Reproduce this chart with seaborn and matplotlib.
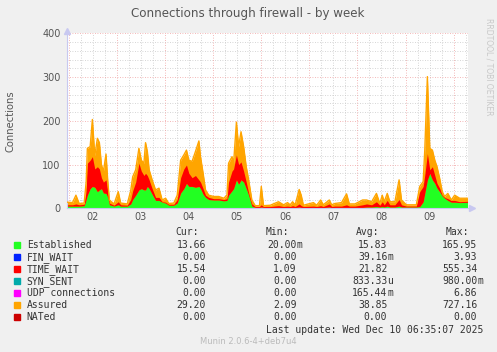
import numpy as np
import pandas as pd
import matplotlib
matplotlib.use("Agg")
import matplotlib.pyplot as plt
import seaborn as sns

# ---- data (hours since Dec 02 00:00) ----
hours = [-0.6, 2, 3.7, 5.3, 7.8, 8.8, 9.4, 10.8, 11.9, 13.1, 14.4, 15.4, 16.4, 17.4, 18.7, 19.6,
         20.4, 22.7, 24.8, 26, 29.3, 31, 32, 33.5, 35.1, 36.3, 37.6, 38.4, 39.3, 40.2, 41.7,
         43.4, 45.1, 46.7, 48.4, 50, 52.5, 54.2, 55.9, 57.5, 58.8, 60, 61.6, 63.3, 65, 65.8,
         67.1, 68.3, 69.9, 72.4, 74.9, 77.4, 79, 79.8, 81.5, 82.3, 83.7, 84.8, 86, 87.3, 88.6,
         89.8, 91.4, 93.1, 95.2, 96.1, 97.2, 100.6, 104.7, 107.2, 109.2, 110.5, 111.7, 113,
         115, 116, 117.1, 122.1, 123.7, 125.7, 127, 130, 131.2, 132.8, 136.1, 138.6, 140,
         142.8, 146.6, 148.6, 151.1, 153.5, 155.2, 156.4, 157.4, 158.9, 160.2, 162.7, 164.8,
         166, 168.4, 173.4, 175.1, 176.8, 177.6, 178.9, 180.1, 181.4, 182.6, 183.7, 185,
         186.3, 187.5, 189.1, 190.8, 192.5, 195, 198.9]
assured = [14, 13, 30, 11, 12, 60, 137, 141, 203, 120, 160, 150, 100, 84, 124, 60,
           19, 10, 38, 12, 10, 40, 72, 88, 137, 110, 103, 150, 130, 88, 65,
           42, 46, 19, 23, 11, 12, 30, 110, 122, 133, 110, 107, 130, 154, 118,
           80, 42, 30, 27, 27, 23, 30, 103, 118, 103, 197, 141, 175, 141, 95,
           65, 19, 6, 6, 50, 6, 7, 15, 8, 13, 8, 15, 8,
           43, 30, 7, 13, 7, 19, 8, 19, 8, 11, 13, 33, 10,
           10, 19, 19, 15, 34, 11, 30, 15, 34, 15, 15, 65,
           19, 8, 8, 50, 61, 133, 301, 137, 133, 110, 95, 69,
           38, 27, 34, 19, 30, 23, 23]
established = [5, 5, 5, 5, 6, 20, 30, 45, 50, 48, 38, 42, 45, 35, 34, 25,
               8, 5, 8, 5, 5, 10, 20, 30, 42, 45, 42, 42, 50, 45, 32,
               18, 18, 14, 12, 7, 7, 12, 35, 45, 57, 50, 50, 48, 50, 45,
               32, 25, 20, 19, 19, 17, 18, 30, 40, 45, 65, 55, 65, 60, 45,
               30, 5, 2, 2, 3, 2, 1.5, 2, 1.5, 2, 1.5, 2, 1.5,
               3, 2, 1.5, 2, 1.5, 2, 1.5, 3, 1.5, 2, 2, 2, 2,
               2, 2, 3, 3, 4, 3, 4, 3, 5, 3, 3, 5,
               3, 3, 3, 4, 15, 34, 65, 80, 65, 57, 46, 38,
               28, 23, 18, 14, 14, 13, 13.7]
time_wait = [3, 3, 5, 3, 3, 20, 73, 65, 68, 42, 57, 48, 25, 25, 31, 15,
             4, 2, 7, 3, 2, 10, 20, 30, 61, 40, 33, 38, 25, 20, 13,
             7, 7, 1, 2, 2, 2, 8, 35, 45, 42, 30, 20, 27, 15, 15,
             13, 5, 5, 3, 3, 3, 4, 30, 45, 45, 57, 45, 41, 25, 15,
             5, 5, 2, 2, 5, 2, 2.5, 4, 2.5, 3, 2.5, 4, 2.5,
             7, 4, 2.5, 3, 2.5, 4, 2.5, 7, 2.5, 3, 3, 6, 3,
             3, 6, 7, 5, 11, 4, 11, 5, 13, 5, 5, 15,
             5, 2, 2, 34, 35, 42, 60, 8, 30, 18, 11, 8,
             2, 2, 4, 4, 4, 2, 2.3]

day_labels = ["02", "03", "04", "05", "06", "07", "08", "09"]
y_ticks = [0, 100, 200, 300, 400]

legend_names = ["Established", "FIN_WAIT", "TIME_WAIT", "SYN_SENT",
                "UDP connections", "Assured", "NATed"]
legend_colors = ["#22FF22", "#0022FF", "#FF0000", "#00AAAA",
                 "#FF00FF", "#FFA500", "#CC0000"]
cur_vals = [("13.66", ""), ("0.00", ""), ("15.54", ""), ("0.00", ""), ("0.00", ""), ("29.20", ""), ("0.00", "")]
min_vals = [("20.00", "m"), ("0.00", ""), ("1.09", ""), ("0.00", ""), ("0.00", ""), ("2.09", ""), ("0.00", "")]
avg_vals = [("15.83", ""), ("39.16", "m"), ("21.82", ""), ("833.33", "u"), ("165.44", "m"), ("38.85", ""), ("0.00", "")]
max_vals = [("165.95", ""), ("3.93", ""), ("555.34", ""), ("980.00", "m"), ("6.86", ""), ("727.16", ""), ("0.00", "")]

df = pd.DataFrame({"hours": hours, "established": established,
                   "time_wait": time_wait, "assured": assured})
df["red_top"] = df["established"] + df["time_wait"]
df["orange_top"] = np.maximum(df["assured"], df["red_top"])

# ---- figure ----
sns.set_style("white")
plt.rcParams["font.family"] = ["DejaVu Sans"]
W, H = 497, 352
fig = plt.figure(figsize=(W / 100, H / 100), dpi=100, facecolor="#F0F0F0")
L, R, T, B = 67.3, 467.5, 33.3, 208.3
ax = fig.add_axes([L / W, 1 - B / H, (R - L) / W, (B - T) / H])
ax.set_facecolor("white")
x0, x1 = -0.6, 198.9
ax.set_xlim(x0, x1)
ax.set_ylim(0, 400)

# grid
for v in range(0, 401, 20):
    if v % 100:
        ax.axhline(v, color="#C8C8C8", lw=0.6, ls=(0, (1, 2)), zorder=0.5)
for h in range(0, 199, 6):
    if h % 24:
        ax.axvline(h, color="#C8C8C8", lw=0.6, ls=(0, (1, 2)), zorder=0.5)
for v in range(100, 401, 100):
    ax.axhline(v, color="#F0A0A0", lw=0.6, ls=(0, (1, 2)), zorder=0.6)
for h in range(0, 199, 24):
    ax.axvline(h, color="#F0A0A0", lw=0.6, ls=(0, (1, 2)), zorder=0.6)

# areas
ax.fill_between(df["hours"], 0, df["orange_top"], color="#FFA500", lw=0, zorder=1)
ax.fill_between(df["hours"], 0, df["established"], color="#22FF22", lw=0, zorder=2)
ax.fill_between(df["hours"], df["established"], df["red_top"], color="#FF0000", lw=0, zorder=2)
sns.lineplot(data=df, x="hours", y="orange_top", ax=ax, color="#FFA500", lw=1.0, zorder=3)

# axes styling
for s in ["top", "right"]:
    ax.spines[s].set_visible(False)
for s in ["left", "bottom"]:
    ax.spines[s].set_color("#C8C8F0")
    ax.spines[s].set_linewidth(0.8)
ax.plot([x0], [405], marker="^", color="#C8C8F0", ms=4, clip_on=False, zorder=5)
ax.plot([x1 + 2.2], [0], marker=">", color="#C8C8F0", ms=4, clip_on=False, zorder=5)

ax.set_xticks([12 + 24 * i for i in range(len(day_labels))])
ax.set_xticklabels(day_labels)
ax.set_yticks(y_ticks)
ax.set_yticklabels([str(v) for v in y_ticks])
ax.tick_params(axis="both", length=0, labelsize=7, colors="#555555")
ax.tick_params(axis="y", pad=4.8)
ax.tick_params(axis="x", pad=2.5)
ax.set_xlabel("")
ax.set_ylabel("")

# texts
fig.text(248, H - 13, "Connections through firewall - by week", transform=None,
         ha="center", va="center", fontsize=8.6, color="#555555")
fig.text(11, H - 120.8, "Connections", transform=None, rotation=90,
         ha="center", va="center", fontsize=7.2, color="#555555")
fig.text(489, H - 18, "RRDTOOL / TOBI OETIKER", transform=None, rotation=270,
         ha="center", va="top", fontsize=5.5, color="#C8C8C8")

mono = dict(family="DejaVu Sans Mono", fontsize=7.0, color="#333333", transform=None, va="center")
hdr_y = 232.3
for name, xr in [("Cur:", 198.7), ("Min:", 289.3), ("Avg:", 379.3), ("Max:", 469.3)]:
    fig.text(xr, H - hdr_y, name, ha="right", **mono)
col_x = [206, 296.7, 387.3, 477.3]
for i, name in enumerate(legend_names):
    y = 245.3 + 12 * i
    fig.patches.append(plt.Rectangle((14 / W, 1 - (y + 3) / H), 6 / W, 6 / H,
                                     transform=fig.transFigure, color=legend_colors[i]))
    fig.text(26.7, H - y, name, ha="left", **mono)
    for cx, (num, suf) in zip(col_x, [cur_vals[i], min_vals[i], avg_vals[i], max_vals[i]]):
        fig.text(cx, H - y, num, ha="right", **mono)
        if suf:
            fig.text(cx, H - y, suf, ha="left", **mono)
fig.text(483.3, H - 329.7, "Last update: Wed Dec 10 06:35:07 2025", ha="right", **mono)
fig.text(248.8, H - 341.3, "Munin 2.0.6-4+deb7u4", transform=None, ha="center", va="center",
         fontsize=6, color="#BBBBBB")

fig.savefig("out.png", dpi=100, facecolor=fig.get_facecolor())
